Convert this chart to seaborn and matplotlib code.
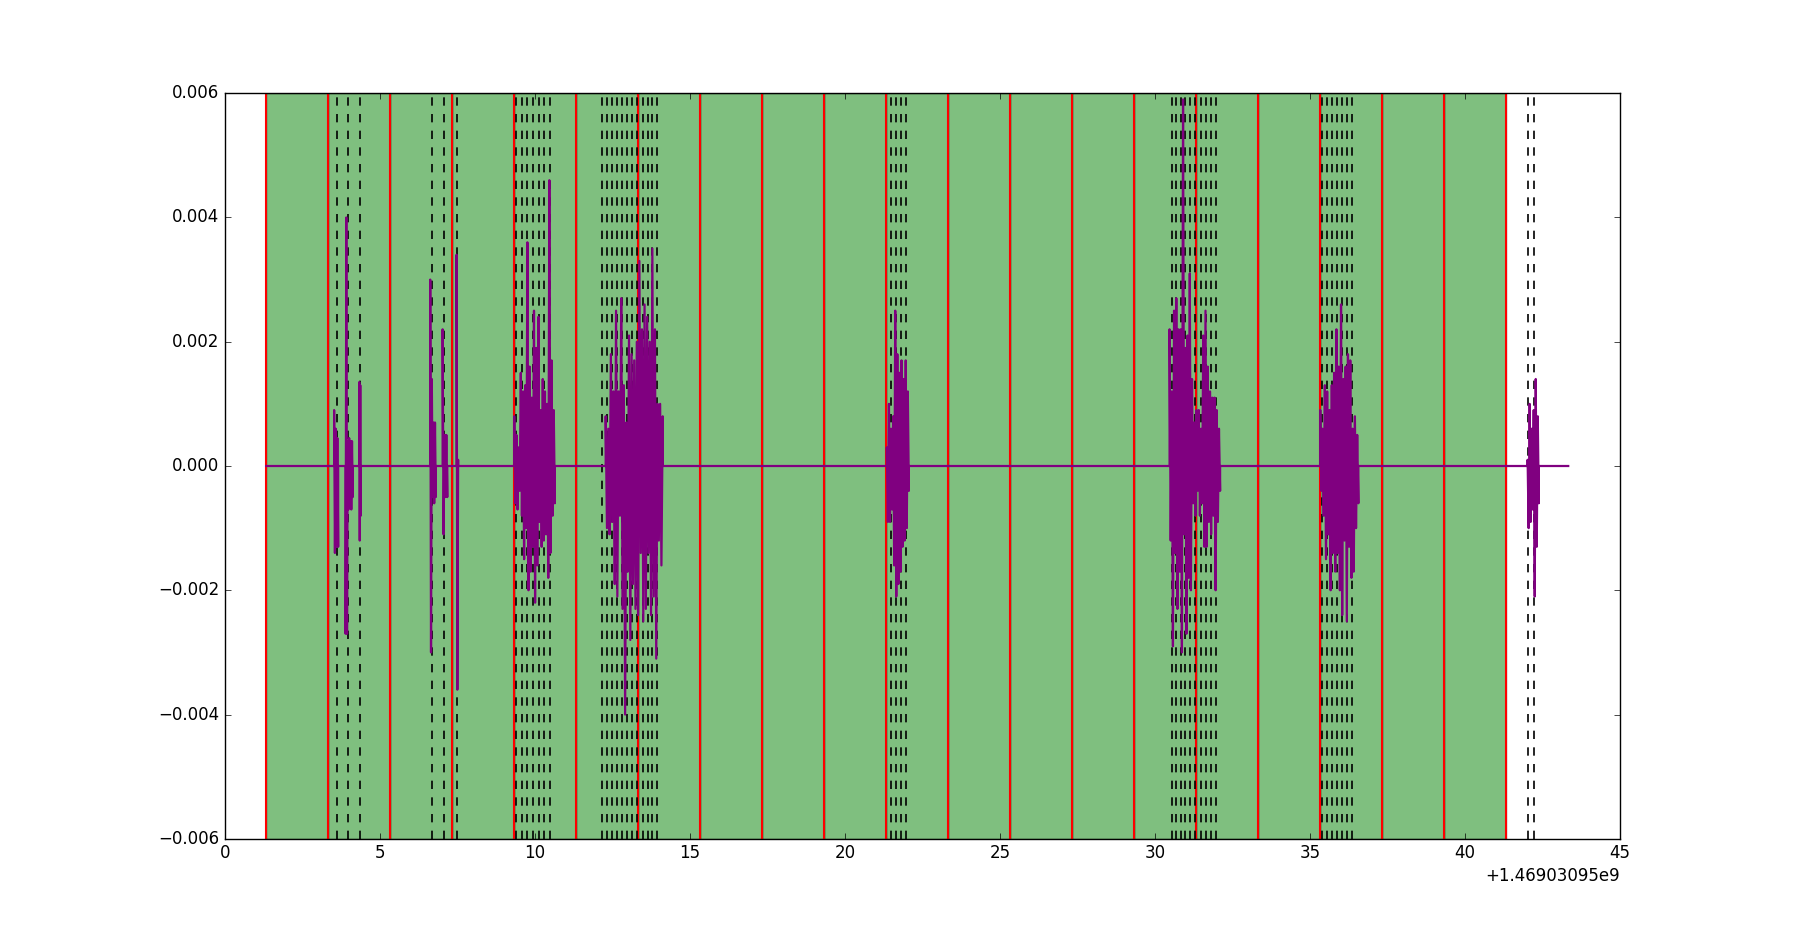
import numpy as np
import pandas as pd
import seaborn as sns
import matplotlib
matplotlib.use('Agg')
import matplotlib.pyplot as plt
from matplotlib.ticker import ScalarFormatter

# capture start (epoch seconds), x values below are offsets from it
T0 = 1469030950

# analysis windows (red boundaries, green spans between them)
window_edges = [1.33, 3.33, 5.33, 7.33, 9.33, 11.33, 13.33, 15.33, 17.33, 19.33, 21.33,
                23.33, 25.33, 27.33, 29.33, 31.33, 33.33, 35.33, 37.33, 39.33, 41.33]

# detected onsets (black dashed)
onset_times = [3.60, 3.96, 4.37, 6.69, 7.06, 7.49,
               9.38, 9.57, 9.75, 9.94, 10.12, 10.30, 10.47,
               12.15, 12.31, 12.47, 12.63, 12.80, 12.96, 13.12, 13.28, 13.47, 13.63, 13.78, 13.95,
               21.47, 21.63, 21.80, 21.96,
               30.56, 30.67, 30.85, 30.98, 31.12, 31.28, 31.47, 31.63, 31.80, 31.97,
               35.40, 35.56, 35.72, 35.87, 36.02, 36.18, 36.34,
               42.04, 42.23]

signal_start = 1.33
signal_end = 43.33

# bursts of activity in the signal, zero elsewhere
burst_start = [3.52, 3.89, 4.33, 6.62, 7.02, 7.47, 9.33, 12.28, 21.35, 30.47, 35.33, 42.02]
burst_end = [3.65, 4.12, 4.38, 6.80, 7.17, 7.52, 10.64, 14.12, 22.06, 32.10, 36.56, 42.38]
burst_values = [
    [0.0009, -0.0014, 0.0006, -0.0013, 0.00045, -0.0013],
    [-0.0027, 0.0040, -0.0027, 0.0004, -0.0007, 0.00045, -0.0005, 0.0004, -0.0007, 0.0004, -0.0005],
    [0.00135, -0.0012, 0.0013, -0.0008],
    [0.0030, -0.0030, 0.0014, -0.0005, 0.0007, -0.0006, 0.0007, -0.0005],
    [0.0022, -0.0011, 0.0005, -0.0005, 0.0005, -0.0005],
    [0.0034, -0.0036, 0.0001],
    [0.0008, -0.0006, 0.0005, -0.0007, 0.0003, -0.0004, 0.0015, -0.0008, 0.0012, -0.0015,
     0.0013, -0.0010, 0.0036, -0.0020, 0.0016, -0.0017, 0.0011, -0.0013, 0.0025, -0.0022,
     0.0019, -0.0016, 0.0024, -0.0009, 0.0009, -0.0013, 0.0014, -0.0012, 0.0012, -0.0011,
     0.0010, -0.0018, 0.0046, -0.0014, 0.0017, -0.0008, 0.0009, -0.0006],
    [0.0008, -0.0010, 0.0006, -0.0011, 0.0018, -0.0009, 0.0012, -0.0019, 0.0025, -0.0021,
     0.0012, -0.0008, 0.0027, -0.0023, 0.0013, -0.0040, 0.0007, -0.0017, 0.0021, -0.0028,
     0.0018, -0.0019, 0.0017, -0.0023, 0.0020, -0.0024, 0.0033, -0.0014, 0.0022, -0.0025,
     0.0026, -0.0023, 0.0024, -0.0014, 0.0020, -0.0024, 0.0035, -0.0021, 0.0022, -0.0031,
     0.0010, -0.0012, 0.0010, -0.0016, 0.0008],
    [0.0003, -0.0009, 0.0010, -0.0009, 0.0006, -0.0007, 0.0008, -0.0016, 0.0025, -0.0021,
     0.0018, -0.0019, 0.0015, -0.0017, 0.0017, -0.0013, 0.0014, -0.0012, 0.0017, -0.0010,
     0.0012, -0.0004],
    [0.0022, -0.0012, 0.0012, -0.0029, 0.0025, -0.0014, 0.0027, -0.0023, 0.0022, -0.0017,
     0.0022, -0.0030, 0.0059, -0.0011, 0.0019, -0.0027, 0.0021, -0.0018, 0.0031, -0.0020,
     0.0014, -0.0006, 0.0007, -0.0008, 0.0009, -0.0004, 0.0009, -0.0008, 0.0006, -0.0006,
     0.0021, -0.0013, 0.0025, -0.0013, 0.0016, -0.0009, 0.0012, -0.0011, 0.0011, -0.0008,
     0.0011, -0.0020, 0.0009, -0.0009, 0.0006, -0.0004],
    [0.0009, -0.0004, 0.0006, -0.0008, 0.0013, -0.0015, 0.0012, -0.0011, 0.0009, -0.0020,
     0.0013, -0.0014, 0.0015, -0.0017, 0.0022, -0.0014, 0.0016, -0.0020, 0.0026, -0.0024,
     0.0014, -0.0012, 0.0016, -0.0025, 0.0018, -0.0013, 0.0017, -0.0018, 0.0006, -0.0017,
     0.0008, -0.0010, 0.0005, -0.0006],
    [0.0001, -0.0010, 0.0010, -0.0009, 0.0006, -0.0007, 0.0009, -0.0021, 0.0014, -0.0013,
     0.0008, -0.0006],
]

# assemble the signal trace
t = [signal_start]
a = [0.0]
for s, e, v in zip(burst_start, burst_end, burst_values):
    t += [s] + list(np.linspace(s, e, len(v))) + [e]
    a += [0.0] + v + [0.0]
t.append(signal_end)
a.append(0.0)
df = pd.DataFrame({'time': T0 + np.array(t), 'amp': a})

plt.style.use('classic')
fig, ax = plt.subplots(figsize=(18, 9.32), dpi=100)

# green windows + red boundaries
for left, right in zip(window_edges[:-1], window_edges[1:]):
    ax.axvspan(T0 + left, T0 + right, facecolor='g', alpha=0.5)
for x in window_edges:
    ax.axvline(T0 + x, color='r', lw=1.5)

# onsets
for x in onset_times:
    ax.axvline(T0 + x, color='k', ls='--', lw=1.2)

sns.lineplot(data=df, x='time', y='amp', ax=ax, color='purple', lw=1.6,
             sort=False, estimator=None)

ax.set_xlim(T0, T0 + 45)
ax.set_ylim(-0.006, 0.006)
ax.xaxis.set_major_formatter(ScalarFormatter(useOffset=T0))
ax.set_xlabel('')
ax.set_ylabel('')

fig.savefig('out.png', dpi=100)
